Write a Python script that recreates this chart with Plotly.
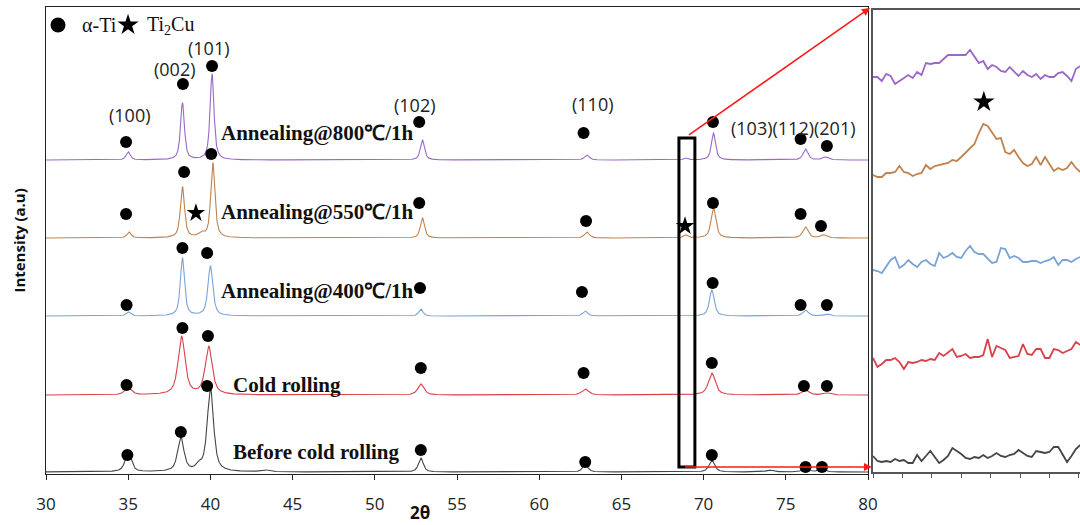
import numpy as np
import plotly.graph_objects as go

# ---------------- data ----------------
names = ["Before cold rolling", "Cold rolling", "Annealing@400℃/1h", "Annealing@550℃/1h", "Annealing@800℃/1h"]
colors = ["#454545", "#D9404A", "#7BA3D6", "#C0834F", "#9A68C8"]
offsets = [2, 79, 158, 236, 314]          # stacking offsets (a.u.)

# peak tables: position (2θ), height (a.u.), FWHM (deg)
pk_pos = [
    [35.0, 38.2, 39.3, 40.0, 43.3, 52.8, 62.8, 70.5, 74.0, 76.2, 77.2],
    [35.0, 38.25, 39.9, 52.8, 62.8, 70.5, 76.2, 77.5],
    [35.0, 38.3, 40.0, 52.8, 62.8, 70.5, 76.2, 77.5],
    [35.05, 38.3, 39.45, 40.15, 52.9, 62.9, 68.9, 70.6, 76.2, 77.3],
    [35.0, 38.3, 40.1, 52.9, 62.9, 68.9, 70.6, 76.2, 77.4],
]
pk_h = [
    [19, 34, 5, 84, 2, 14, 7, 12, 2, 5, 4],
    [7, 58, 48, 11, 6, 22, 5, 2],
    [4, 58, 50, 7, 5, 26, 6, 2],
    [6, 51, 4, 75, 20, 6, 3, 30, 11, 3],
    [8, 57, 86, 20, 5, 2, 27, 11, 3],
]
pk_w = [
    [0.45, 0.45, 0.4, 0.45, 0.6, 0.35, 0.4, 0.4, 0.5, 0.4, 0.4],
    [0.5, 0.5, 0.5, 0.45, 0.5, 0.5, 0.5, 0.5],
    [0.3, 0.3, 0.35, 0.3, 0.35, 0.35, 0.4, 0.4],
    [0.3, 0.3, 0.4, 0.3, 0.3, 0.35, 0.3, 0.35, 0.4, 0.4],
    [0.3, 0.28, 0.28, 0.3, 0.35, 0.3, 0.3, 0.35, 0.4],
]

# α-Ti marker positions (2θ, a.u.)
circ_x = [
    [34.95, 38.2, 39.8, 52.8, 62.8, 70.5, 76.2, 77.2],
    [34.9, 38.3, 39.85, 52.8, 62.7, 70.5, 76.1, 77.5],
    [34.9, 38.3, 39.8, 52.75, 62.6, 70.55, 75.9, 77.5],
    [34.87, 38.4, 40.05, 52.7, 62.85, 70.57, 75.9, 77.14],
    [34.87, 38.33, 40.1, 52.7, 62.7, 70.57, 75.9, 77.5],
]
circ_y = [
    [19, 42, 88, 24, 12, 19, 7, 7],
    [89, 146, 138, 106, 101, 111, 88, 88],
    [169, 226, 221, 186, 182, 191, 169, 169],
    [260, 302, 320, 271, 253, 271, 260, 248],
    [332, 390, 408, 352, 341, 352, 335, 328],
]
# Ti2Cu marker positions (550 ℃ sample)
star_x = [39.12, 68.87]
star_y = [261, 248]

hkl_text = ["(100)", "(002)", "(101)", "(102)", "(110)", "(103)(112)(201)"]
hkl_x = [35.1, 37.85, 39.9, 52.45, 63.27, 75.45]
hkl_y = [359, 405, 426, 369, 370, 346]

label_x = [41.25, 41.25, 40.52, 40.52, 40.52]
label_y = [22, 89, 183, 262, 341]

# legend key (symbol position and text position, in 2θ / a.u.)
key_symbols = ["circle", "star"]
key_text = ["α-Ti", "Ti<sub>2</sub>Cu"]
key_sym_x = [30.73, 34.99]
key_txt_x = [32.05, 36.0]
key_y = 449

# inset (zoom of 68.5-69.2°)
inset_x = [round(68.50 + 0.015 * i, 3) for i in range(48)]
inset_black = [18,13,12,13,12,15,13,14,11,11,19,13,18,23,17,11,14,18,26,23,20,16,15,17,16,19,16,18,21,18,17,19,20,24,21,18,17,23,22,21,22,27,27,20,12,18,25,29]
inset_red = [116,107,110,114,114,116,112,105,112,111,112,114,113,115,114,121,118,122,125,117,118,120,116,117,117,119,135,117,128,126,124,116,117,118,130,120,119,125,125,116,116,125,124,121,123,125,132,129]
inset_blue = [204,203,201,207,214,217,206,209,214,210,207,212,214,210,208,221,216,218,221,217,216,223,228,222,220,220,215,211,212,226,225,216,218,216,212,212,213,213,211,213,214,217,209,214,214,212,215,217]
inset_brown = [299,297,297,301,301,302,308,302,301,298,300,301,309,305,308,309,310,311,314,313,317,321,325,330,341,350,348,341,335,336,322,320,324,317,311,308,310,317,309,317,310,303,306,304,306,312,306,302]
inset_purple = [397,397,393,400,398,390,393,396,399,396,402,399,411,410,411,411,415,419,419,419,419,419,424,417,411,413,405,409,407,403,402,407,402,398,403,399,397,400,395,399,397,397,401,402,398,393,405,408]
inset_series = [inset_black, inset_red, inset_blue, inset_brown, inset_purple]
inset_star = (68.877, 372)

# ---------------- build ----------------
x = np.arange(30.0, 80.0001, 0.01)


def profile(xx, pos, h, w, eta=0.7):
    y = np.zeros_like(xx)
    for c, a, fw in zip(pos, h, w):
        d = (xx - c) / (fw / 2)
        L = 1.0 / (1.0 + d ** 2)
        G = np.exp(-np.log(2) * d ** 2)
        y += a * (eta * L + (1 - eta) * G)
    return y


fig = go.Figure()

for i in range(5):
    y = offsets[i] + profile(x, pk_pos[i], pk_h[i], pk_w[i])
    fig.add_trace(go.Scatter(x=x, y=y, mode="lines", line=dict(color=colors[i], width=1.1),
                             showlegend=False, hoverinfo="skip", xaxis="x", yaxis="y"))

for i in range(5):
    fig.add_trace(go.Scatter(x=circ_x[i], y=circ_y[i], mode="markers",
                             marker=dict(symbol="circle", size=12, color="black"),
                             showlegend=False, xaxis="x", yaxis="y"))

fig.add_trace(go.Scatter(x=star_x, y=star_y, mode="markers",
                         marker=dict(symbol="star", size=14, color="black"),
                         showlegend=False, xaxis="x", yaxis="y"))

# legend key symbols
for sym, sx, sz in zip(key_symbols, key_sym_x, [15, 16]):
    fig.add_trace(go.Scatter(x=[sx], y=[key_y], mode="markers",
                             marker=dict(symbol=sym, size=sz, color="#000000", opacity=1,
                                         line=dict(width=0, color="#000000")),
                             showlegend=False, hoverinfo="skip", xaxis="x", yaxis="y"))

# inset traces
for i in range(5):
    fig.add_trace(go.Scatter(x=inset_x, y=inset_series[i], mode="lines",
                             line=dict(color=colors[i], width=1.8),
                             showlegend=False, hoverinfo="skip", xaxis="x2", yaxis="y2"))
fig.add_trace(go.Scatter(x=[inset_star[0]], y=[inset_star[1]], mode="markers",
                         marker=dict(symbol="star", size=16, color="black"),
                         showlegend=False, xaxis="x2", yaxis="y2"))

ann = []
for t, hx, hy in zip(hkl_text, hkl_x, hkl_y):
    ann.append(dict(x=hx, y=hy, xref="x", yref="y", text=t, showarrow=False,
                    font=dict(family="Open Sans", size=18, color="#222")))
for t, lx, ly in zip(names, label_x, label_y):
    ann.append(dict(x=lx, y=ly, xref="x", yref="y", text="<b>" + t + "</b>", showarrow=False,
                    xanchor="left", font=dict(family="Liberation Serif", size=21, color="#111")))
for t, kx in zip(key_text, key_txt_x):
    ann.append(dict(x=kx, y=key_y, xref="x", yref="y", text=t, showarrow=False, xanchor="left",
                    font=dict(family="Liberation Serif", size=20, color="#111")))
# red zoom arrows
ann.append(dict(x=80.12, y=466, xref="x", yref="y", ax=68.93, ay=337, axref="x", ayref="y",
                showarrow=True, arrowhead=2, arrowsize=1, arrowwidth=1.6, arrowcolor="#FF1A1A", text=" "))
ann.append(dict(x=80.24, y=7, xref="x", yref="y", ax=68.69, ay=7, axref="x", ayref="y",
                showarrow=True, arrowhead=2, arrowsize=1, arrowwidth=1.6, arrowcolor="#FF1A1A", text=" "))
# axis titles
ann.append(dict(x=-0.027, y=0.5, xref="paper", yref="paper", text="<b>Intensity (a.u)</b>",
                textangle=-90, showarrow=False, xanchor="center", yanchor="middle",
                font=dict(family="Open Sans", size=15, color="#111")))
ann.append(dict(x=(420 - 46) / 1034, y=-0.0814, xref="paper", yref="paper", text="<b>2θ</b>",
                showarrow=False, xanchor="center", yanchor="middle",
                font=dict(family="Open Sans", size=17, color="#111")))

shapes = [dict(type="rect", xref="x", yref="y", x0=68.5, x1=69.47, y0=7, y1=336,
               line=dict(color="black", width=3))]

fig.update_layout(
    width=1080, height=525, autosize=False,
    margin=dict(l=46, r=0, t=7, b=51, pad=0),
    paper_bgcolor="white", plot_bgcolor="white",
    annotations=ann, shapes=shapes,
    showlegend=False,
    xaxis=dict(domain=[0, 822 / 1034], range=[30, 80], dtick=5, tick0=30, automargin=False,
               ticks="outside", ticklen=5, tickcolor="#222", showline=True, linecolor="#222",
               mirror=True, showgrid=False, zeroline=False, ticklabelstandoff=10,
               tickfont=dict(family="Open Sans", size=17, color="#222")),
    yaxis=dict(domain=[0, 1], range=[0, 467], showticklabels=False, ticks="", automargin=False,
               showline=True, linecolor="#222", mirror=True, showgrid=False, zeroline=False),
    xaxis2=dict(domain=[827 / 1034, 1], range=[68.5, 69.204], anchor="y2", dtick=0.1, tick0=68.5,
                ticks="outside", ticklen=4, tickcolor="#555", showticklabels=False, automargin=False,
                showline=True, linecolor="#555", linewidth=1.5, mirror=True,
                showgrid=False, zeroline=False),
    yaxis2=dict(domain=[2 / 467, 464 / 467], range=[2, 464], anchor="x2", showticklabels=False,
                ticks="", showline=True, linecolor="#555", linewidth=2, mirror=False, automargin=False,
                showgrid=False, zeroline=False),
)

fig.write_html("out.html", config={"displayModeBar": False},
               post_script="document.body.style.margin='0px';")
